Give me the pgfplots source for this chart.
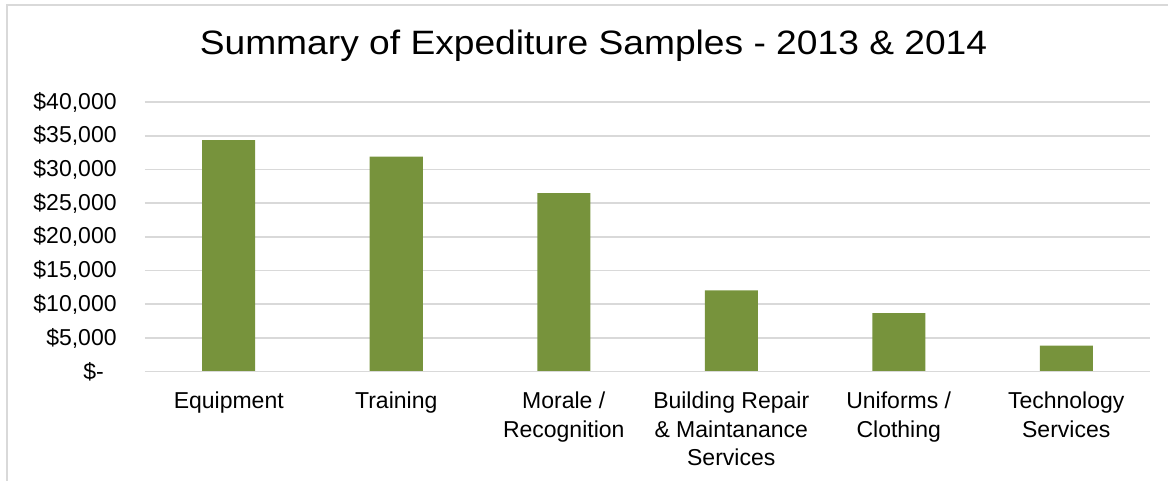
\documentclass[border=0pt]{standalone}
\usepackage{fontspec}
\setmainfont{Liberation Sans}
\usepackage{pgfplots}
\pgfplotsset{compat=1.18}
\definecolor{bargreen}{HTML}{77933C}
\definecolor{gridgray}{HTML}{D9D9D9}
\begin{document}
\begin{tikzpicture}
\useasboundingbox (0,0) rectangle (584pt,240.5pt);
\draw[gridgray, line width=0.9pt] (3.5pt,-10pt) -- (3.5pt,238pt) -- (600pt,238pt);
\node[anchor=base, inner sep=0pt] at (296.75pt,213pt)
  {\scalebox{1.1}[1]{\fontsize{16.9}{20}\selectfont Summary of Expediture Samples - 2013 \& 2014}};
\begin{axis}[
  at={(72.5pt,54.65pt)}, anchor=south west,
  scale only axis, width=502.5pt, height=134.85pt,
  xmin=-0.5, xmax=5.5, ymin=0, ymax=40000,
  axis lines*=none, axis line style={draw=none},
  ybar, bar width=26.5pt,
  scaled y ticks=false,
  xtick={0,1,2,3,4,5},
  xticklabels={Equipment, Training, {Morale /\\Recognition}, {Building Repair\\\& Maintanance\\Services}, {Uniforms /\\Clothing}, {Technology\\Services}},
  ytick={0,5000,10000,15000,20000,25000,30000,35000,40000},
  yticklabels={\$-\phantom{0}, {\$5,000}, {\$10,000}, {\$15,000}, {\$20,000}, {\$25,000}, {\$30,000}, {\$35,000}, {\$40,000}},
  major tick length=0pt,
  ymajorgrids, grid style={gridgray, line width=0.8pt},
  xticklabel style={anchor=north, inner sep=0pt, yshift=-10pt, align=center, font=\fontsize{11.5}{14.25}\selectfont},
  yticklabel style={anchor=east, inner sep=0pt, xshift=-14pt, font=\fontsize{11.5}{14}\selectfont},
  clip=false,
]
\addplot[fill=bargreen, draw=none] coordinates {(0,34350) (1,31900) (2,26500) (3,12050) (4,8700) (5,3850)};
\draw[gridgray, line width=0.8pt] (axis cs:-0.5,0) -- (axis cs:5.5,0);
\end{axis}
\end{tikzpicture}
\end{document}
